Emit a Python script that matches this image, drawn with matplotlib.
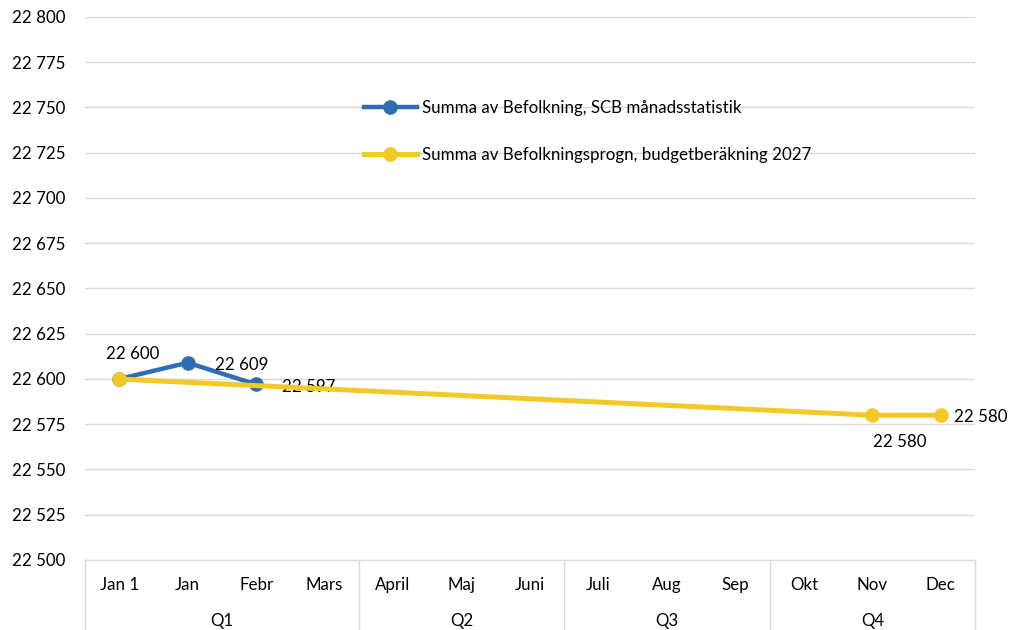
import numpy as np
import matplotlib.pyplot as plt
import matplotlib.transforms as mtransforms

plt.rcParams['font.family'] = ['Lato', 'DejaVu Sans']

months = ["Jan 1", "Jan", "Febr", "Mars", "April", "Maj", "Juni",
          "Juli", "Aug", "Sep", "Okt", "Nov", "Dec"]
quarters = ["Q1", "Q2", "Q3", "Q4"]
quarter_sizes = [4, 3, 3, 3]

scb = [22600, 22609, 22597] + [np.nan] * 10
prognos = [22600] + [np.nan] * 10 + [22580, 22580]

blue = "#2E6DB4"
yellow = "#F2C927"

fig = plt.figure(figsize=(10.09, 6.3), dpi=100)
ax = fig.add_axes([85 / 1009, 1 - 560 / 630, 890 / 1009, 543 / 630])

x = np.arange(len(months))
scb = np.array(scb, dtype=float)
prognos = np.array(prognos, dtype=float)
ok1 = ~np.isnan(scb)
ok2 = ~np.isnan(prognos)

ax.plot(x[ok1], scb[ok1], color=blue, lw=3.2, marker="o", ms=9.5,
        label="Summa av Befolkning, SCB månadsstatistik", zorder=3)
ax.plot(x[ok2], prognos[ok2], color=yellow, lw=3.6, marker="o", ms=9.5,
        label="Summa av Befolkningsprogn, budgetberäkning 2027", zorder=4)

# data labels
fs = 12.2
ax.annotate("22 600", (0, scb[0]), xytext=(10, 18), textcoords="offset points",
            ha="center", va="center", fontsize=fs)
ax.annotate("22 609", (1, scb[1]), xytext=(39, -1.5), textcoords="offset points",
            ha="center", va="center", fontsize=fs)
ax.annotate("22 597", (2, scb[2]), xytext=(38, -2), textcoords="offset points",
            ha="center", va="center", fontsize=fs)
ax.annotate("22 580", (11, prognos[11]), xytext=(20, -19), textcoords="offset points",
            ha="center", va="center", fontsize=fs)
ax.annotate("22 580", (12, prognos[12]), xytext=(29, -1), textcoords="offset points",
            ha="center", va="center", fontsize=fs)

ax.set_xlim(-0.5, len(months) - 0.5)
ax.set_ylim(22500, 22800)
ax.set_yticks(np.arange(22500, 22801, 25))
ax.set_yticklabels([f"{v:,}".replace(",", " ") for v in range(22500, 22801, 25)])
ax.tick_params(axis="y", length=0, pad=14, labelsize=fs)
ax.set_xticks([])
ax.grid(axis="y", color="#d9d9d9", lw=1)
ax.set_axisbelow(True)
for s in ["top", "right", "left"]:
    ax.spines[s].set_visible(False)
ax.spines["bottom"].set_color("#d9d9d9")

# category axis with quarter groups
trans = mtransforms.blended_transform_factory(ax.transData, ax.transAxes)
box_h = 70 / 543
for i, m in enumerate(months):
    ax.text(i, -25 / 543, m, transform=trans, ha="center", va="center", fontsize=fs)
start = 0
for q, n in zip(quarters, quarter_sizes):
    ax.text(start + (n - 1) / 2, -61 / 543, q, transform=trans,
            ha="center", va="center", fontsize=fs)
    start += n
edges = np.concatenate([[0], np.cumsum(quarter_sizes)]) - 0.5
for e in edges:
    ax.plot([e, e], [0, -box_h], transform=trans, color="#d9d9d9", lw=1, clip_on=False)

ax.legend(loc="upper left", bbox_to_anchor=(0.304, 0.862), frameon=False,
          handlelength=3.1, handletextpad=0.3, labelspacing=1.8, fontsize=fs,
          borderpad=0)

fig.savefig("out.png", dpi=100)
